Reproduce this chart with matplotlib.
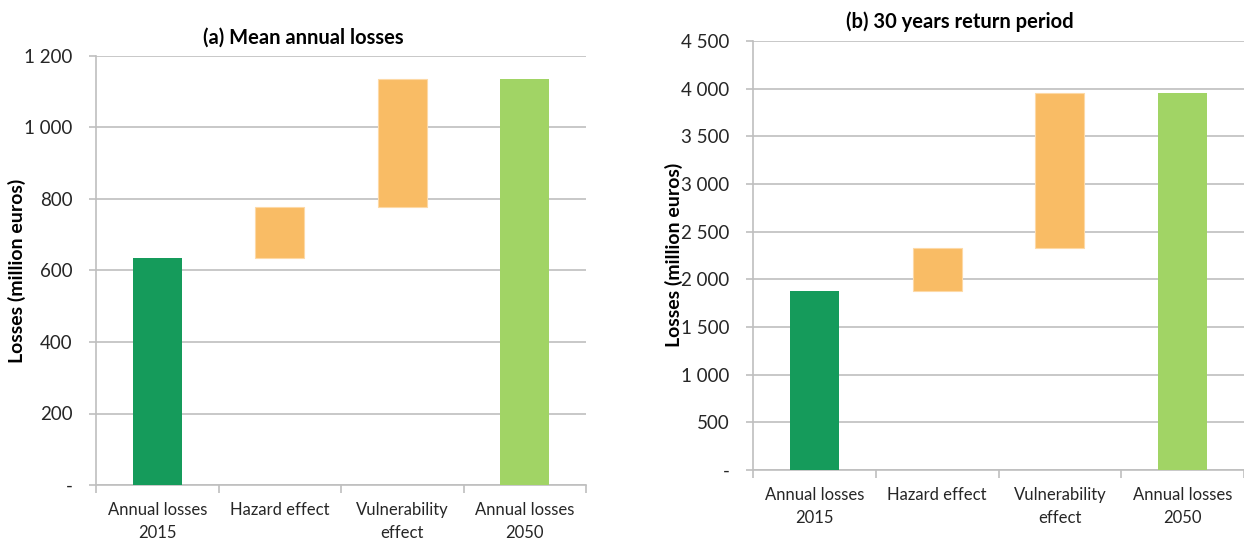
import matplotlib.pyplot as plt
from matplotlib.ticker import FuncFormatter, FixedLocator

plt.rcParams['font.family'] = ['Lato', 'DejaVu Sans']

categories = ["Annual losses\n2015", "Hazard effect", "Vulnerability\neffect", "Annual losses\n2050"]

# (a) mean annual losses, million euros
mean_2015 = 634
mean_hazard = 143
mean_vulnerability = 360

# (b) 30 years return period, million euros
rp30_2015 = 1878
rp30_hazard = 452
rp30_vulnerability = 1625

dark_green = "#159b5b"
orange = "#f9bc65"
light_green = "#a1d465"
grid_grey = "#bfbfbf"


def thousands(v, pos):
    if v == 0:
        return "-"
    return f"{int(v):,}".replace(",", " ")


def waterfall(ax, start, hazard, vuln, ymax, step):
    end = start + hazard + vuln
    bottoms = [0, start, start + hazard, 0]
    heights = [start, hazard, vuln, end]
    colors = [dark_green, orange, orange, light_green]
    x = range(len(categories))
    ax.bar(x, heights, bottom=bottoms, width=0.4, color=colors,
           edgecolor=["none", "#fdd9a6", "#fdd9a6", "none"], linewidth=0.8, zorder=3)

    ax.set_xlim(-0.5, 3.5)
    ax.set_ylim(0, ymax)
    ax.set_yticks(range(0, ymax + 1, step))
    ax.yaxis.set_major_formatter(FuncFormatter(thousands))
    ax.grid(axis="y", color=grid_grey, linewidth=1.2, zorder=0)

    ax.xaxis.set_major_locator(FixedLocator([-0.5, 0.5, 1.5, 2.5, 3.5]))
    ax.xaxis.set_minor_locator(FixedLocator(list(x)))
    ax.set_xticklabels([], minor=False)
    ax.set_xticklabels(categories, minor=True, fontsize=12, color="#262626",
                       linespacing=1.6)
    ax.tick_params(axis="x", which="major", length=6, color=grid_grey, width=1.2)
    ax.tick_params(axis="x", which="minor", length=0, pad=12)
    ax.tick_params(axis="y", length=5, color=grid_grey, width=1.2,
                   labelsize=13.5, labelcolor="#262626", pad=12)

    for side in ("top", "right"):
        ax.spines[side].set_visible(False)
    for side in ("left", "bottom"):
        ax.spines[side].set_color(grid_grey)
        ax.spines[side].set_linewidth(1.2)


W, H = 1244, 542
fig = plt.figure(figsize=(W / 100, H / 100), dpi=100)

ax1 = fig.add_axes([96 / W, (H - 485) / H, 490 / W, 429 / H])
waterfall(ax1, mean_2015, mean_hazard, mean_vulnerability, 1200, 200)

ax2 = fig.add_axes([753 / W, (H - 470) / H, 491 / W, 429 / H])
waterfall(ax2, rp30_2015, rp30_hazard, rp30_vulnerability, 4500, 500)

fig.text(303 / W, 1 - 38 / H, "(a) Mean annual losses", ha="center", va="center",
         fontsize=14.5, fontweight="bold", color="black")
fig.text(960 / W, 1 - 22 / H, "(b) 30 years return period", ha="center", va="center",
         fontsize=14.5, fontweight="bold", color="black")

fig.text(17 / W, 1 - 271 / H, "Losses (million euros)", rotation=90, ha="center",
         va="center", fontsize=14, fontweight="bold", color="black")
fig.text(674 / W, 1 - 255 / H, "Losses (million euros)", rotation=90, ha="center",
         va="center", fontsize=14, fontweight="bold", color="black")

fig.savefig("out.png", dpi=100)
